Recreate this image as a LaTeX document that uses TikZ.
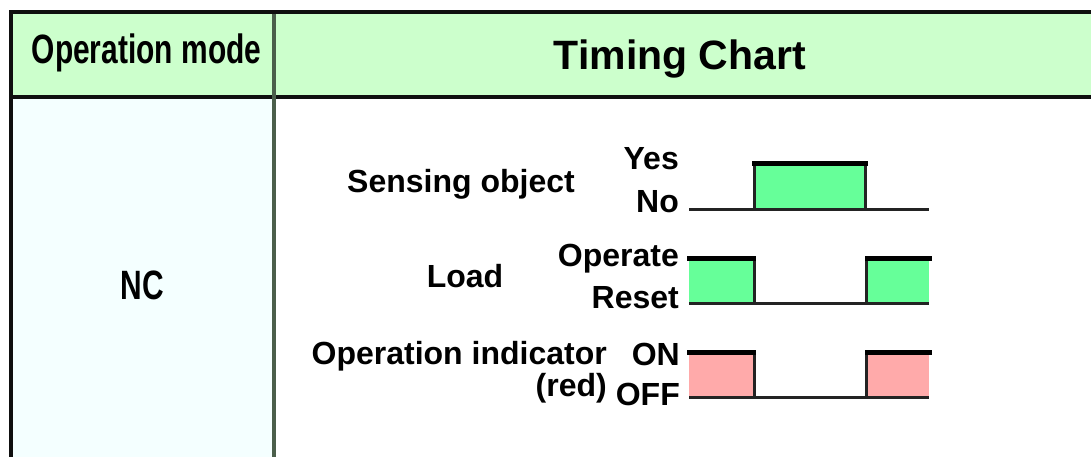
\documentclass[tikz,border=0pt]{standalone}
\usepackage{fontspec}
\setmainfont{Liberation Sans}
\newfontfamily\narrowfont[FakeStretch=0.73]{Liberation Sans}
\definecolor{hdrbg}{RGB}{204,255,204}
\definecolor{modebg}{RGB}{244,255,255}
\definecolor{wavegreen}{RGB}{102,255,153}
\definecolor{wavepink}{RGB}{255,170,170}
\definecolor{ruledark}{RGB}{15,15,15}
\definecolor{dividercol}{RGB}{75,95,75}
\definecolor{wavedark}{RGB}{35,35,35}
\begin{document}
\begin{tikzpicture}[x=1pt,y=-1pt,
  lbl/.style={inner sep=0pt, font=\fontsize{32}{36}\selectfont\bfseries},
  hdrtext/.style={inner sep=0pt, font=\fontsize{41}{46}\selectfont\bfseries},
  modetext/.style={inner sep=0pt, font=\narrowfont\fontsize{41}{46}\selectfont\bfseries},
  waveline/.style={line width=3pt, wavedark},
  wavetop/.style={line width=5pt, black, line cap=rect},
  border/.style={line width=4.5pt, ruledark}]
\useasboundingbox (0,0) rectangle (1091,457);
\fill[white] (0,0) rectangle (1091,457);
% table fills
\fill[hdrbg] (11,12) rectangle (1091,97);
\fill[modebg] (11,97) rectangle (274,457);
% table rules
\draw[border] (11,457) -- (11,12) -- (1091,12);
\draw[line width=4pt, ruledark] (11,97.5) -- (1091,97.5);
\draw[line width=3.5pt, dividercol] (274,14) -- (274,457);
% header texts
\node[modetext, anchor=base] (opmode) at (146.5,64) {Operation mode};
\node[hdrtext, anchor=base] (timing) at (680,70) {Timing Chart};
\node[modetext, anchor=base] (nc) at (142.5,299) {NC};
% signal names
\node[lbl, anchor=base] (sensing) at (461,192) {Sensing object};
\node[lbl, anchor=base] (load) at (465,287) {Load};
\node[lbl, anchor=base east, text depth=0pt] (indicator) at (607,364) {Operation indicator};
\node[lbl, anchor=base east] (red) at (607,396) {(red)};
% level names
\node[lbl, anchor=base east] (yes) at (679,169) {Yes};
\node[lbl, anchor=base east] (no) at (679,212) {No};
\node[lbl, anchor=base east] (operate) at (679,266) {Operate};
\node[lbl, anchor=base east] (reset) at (679,308) {Reset};
\node[lbl, anchor=base east] (on) at (680,365) {ON};
\node[lbl, anchor=base east] (off) at (680,405) {OFF};
% sensing object waveform
\fill[wavegreen] (754,164) rectangle (865,209);
\draw[waveline] (689,209) -- (929,209);
\draw[waveline] (754,164) -- (754,209);
\draw[waveline] (865,164) -- (865,209);
\draw[wavetop] (754,164) -- (865,164);
% load waveform
\fill[wavegreen] (689,258) rectangle (754,303);
\fill[wavegreen] (866,258) rectangle (929,303);
\draw[waveline] (689,303) -- (929,303);
\draw[waveline] (754,258) -- (754,303);
\draw[waveline] (866,258) -- (866,303);
\draw[wavetop] (689,258) -- (753,258);
\draw[wavetop] (867,258) -- (929,258);
% indicator waveform
\fill[wavepink] (689,352) rectangle (754,397);
\fill[wavepink] (866,352) rectangle (929,397);
\draw[waveline] (689,397) -- (929,397);
\draw[waveline] (754,352) -- (754,397);
\draw[waveline] (866,352) -- (866,397);
\draw[wavetop] (689,352) -- (753,352);
\draw[wavetop] (867,352) -- (929,352);
\end{tikzpicture}
\end{document}
